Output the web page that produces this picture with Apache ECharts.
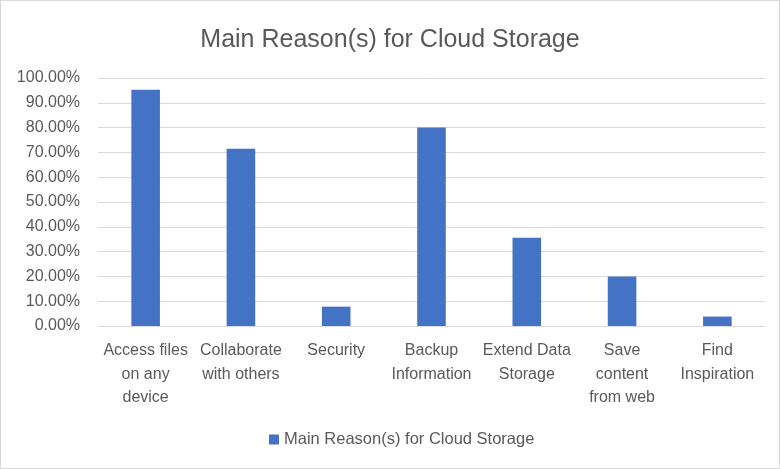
<!DOCTYPE html>
<html>
<head>
<meta charset="utf-8">
<script src="https://cdn.jsdelivr.net/npm/echarts@6/dist/echarts.min.js"></script>
<style>
  html, body { margin: 0; padding: 0; background: #fff; }
  #chart { width: 778px; height: 467px; border: 1px solid #d9d9d9; }
</style>
</head>
<body>
<div id="chart"></div>
<script>
// 分类和数值
const categories = [
  'Access files\non any\ndevice',
  'Collaborate\nwith others',
  'Security',
  'Backup\nInformation',
  'Extend Data\nStorage',
  'Save\ncontent\nfrom web',
  'Find\nInspiration'
];
const values = [95.3, 71.5, 7.8, 80, 35.6, 20, 3.8];
const seriesName = 'Main Reason(s) for Cloud Storage';

const chart = echarts.init(document.getElementById('chart'));
const textColor = '#595959';
const fontFamily = '"Liberation Sans", Arial, sans-serif';

chart.setOption({
  animation: false,
  title: {
    text: 'Main Reason(s) for Cloud Storage',
    left: 'center',
    top: 22,
    textStyle: { color: textColor, fontSize: 25, fontWeight: 'normal', fontFamily: fontFamily }
  },
  legend: {
    data: [seriesName],
    top: 425,
    left: 263,
    icon: 'rect',
    itemWidth: 10,
    itemHeight: 10,
    itemGap: 4,
    textStyle: { color: textColor, fontSize: 16.5, fontFamily: fontFamily }
  },
  grid: { left: 97, right: 14, top: 77, bottom: 142 },
  xAxis: {
    type: 'category',
    data: categories,
    axisLine: { lineStyle: { color: '#d9d9d9' } },
    axisTick: { show: false },
    axisLabel: {
      color: textColor,
      fontSize: 16,
      fontFamily: fontFamily,
      lineHeight: 23.5,
      margin: 13,
      interval: 0
    }
  },
  yAxis: {
    type: 'value',
    min: 0,
    max: 100,
    interval: 10,
    axisLine: { show: false },
    axisTick: { show: false },
    splitLine: { lineStyle: { color: '#d9d9d9' } },
    axisLabel: {
      color: textColor,
      fontSize: 16,
      fontFamily: fontFamily,
      margin: 18,
      formatter: (v) => v.toFixed(2) + '%'
    }
  },
  series: [
    {
      name: seriesName,
      type: 'bar',
      data: values,
      barWidth: '30%',
      itemStyle: { color: '#4472c4' }
    }
  ]
});
</script>
</body>
</html>
